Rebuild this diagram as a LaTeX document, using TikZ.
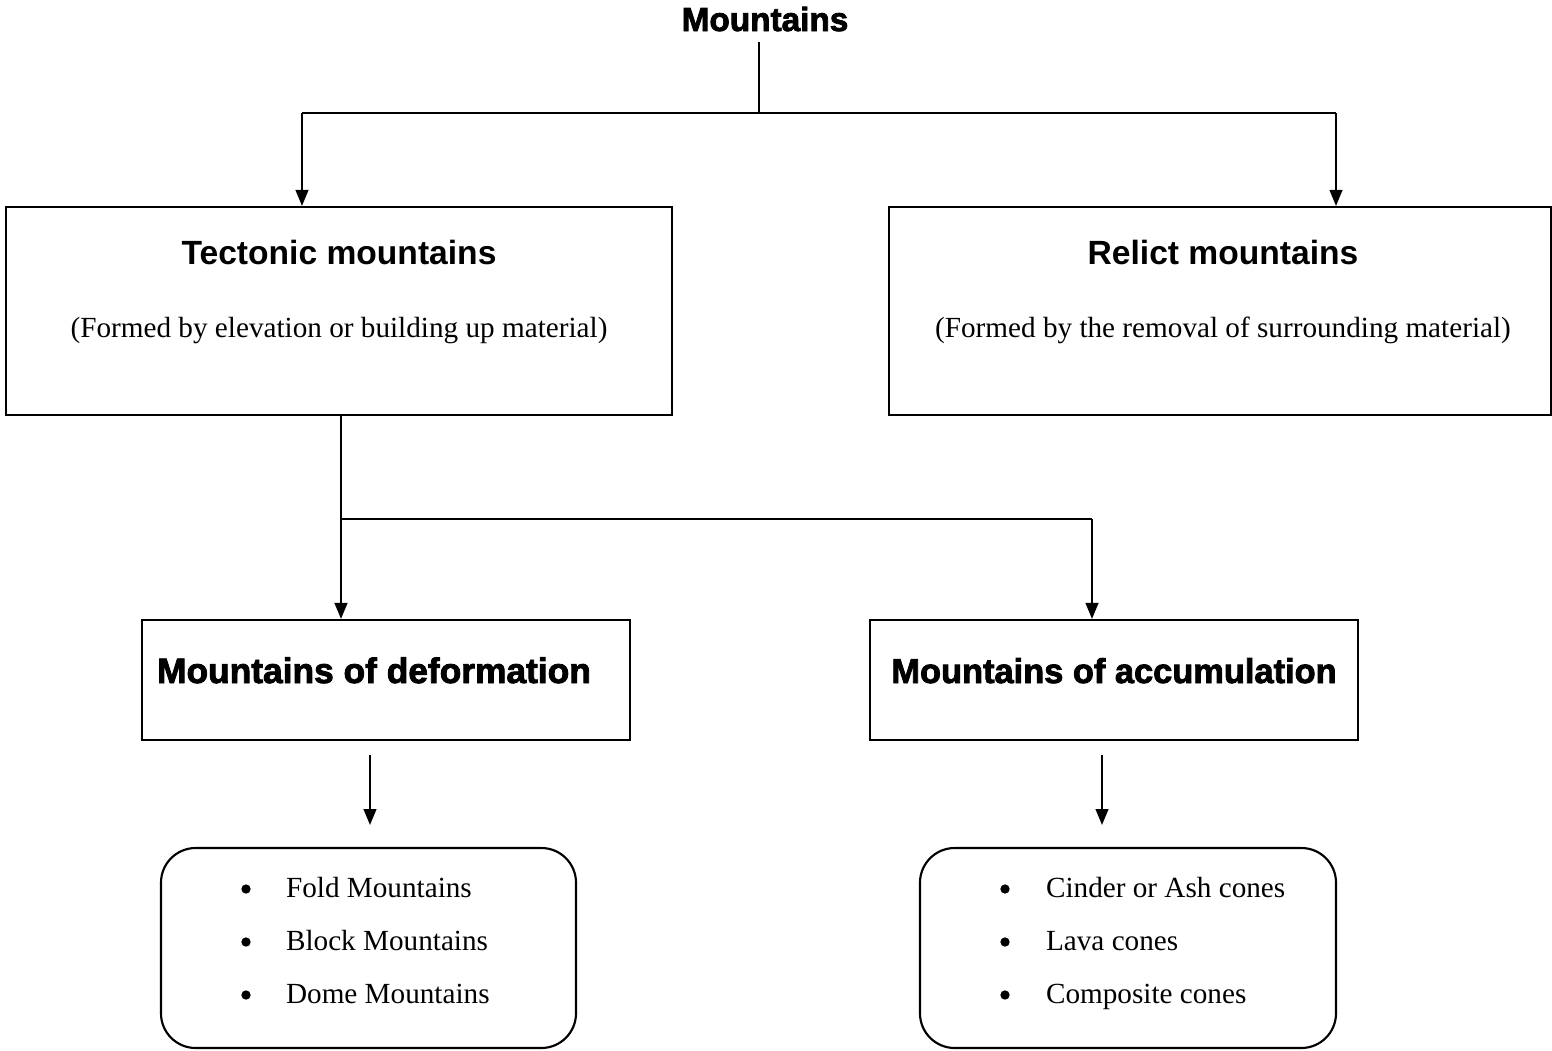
\documentclass[tikz,border=0pt]{standalone}
\usepackage{fontspec}
\setmainfont{Liberation Serif}
\newfontfamily\headfont{Liberation Sans}
\newfontfamily\blackfont{Liberation Sans}[BoldFeatures={FakeBold=2.4}]
\usetikzlibrary{arrows.meta}
\begin{document}
\begin{tikzpicture}[x=0.75pt,y=-0.75pt,
  line width=1.6pt,
  arr/.style={-{Triangle[length=12pt,width=9.5pt]}},
  box/.style={draw,rectangle,inner sep=0pt},
  listbox/.style={draw,rectangle,rounded corners=26pt,inner sep=0pt},
  title/.style={font=\blackfont\bfseries\fontsize{25}{30}\selectfont,anchor=base,inner sep=0pt},
  head/.style={font=\headfont\bfseries\fontsize{25.2}{30}\selectfont,anchor=base,inner sep=0pt},
  sub/.style={font=\fontsize{21.9}{26}\selectfont,anchor=base,inner sep=0pt},
  item/.style={font=\fontsize{21.9}{26}\selectfont,anchor=base west,inner sep=0pt},
  dot/.style={circle,fill,draw=none,minimum size=7pt,inner sep=0pt}]
\useasboundingbox (0,0) rectangle (1552,1050);

% boxes
\node[box,minimum width=499.5pt,minimum height=156pt] (tect) at (339,311) {};
\node[box,minimum width=496.5pt,minimum height=156pt] (rel) at (1220,311) {};
\node[box,minimum width=366pt,minimum height=90pt] (def) at (386,680) {};
\node[box,minimum width=366pt,minimum height=90pt] (acc) at (1114,680) {};
\node[listbox,minimum width=311.25pt,minimum height=150pt] (lst1) at (368.5,948) {};
\node[listbox,minimum width=312pt,minimum height=150pt] (lst2) at (1128,948) {};

% texts
\node[title] (root) at (765,31) {Mountains};
\node[head] (tecth) at (339,264) {Tectonic mountains};
\node[sub] (tects) at (339,337) {(Formed by elevation or building up material)};
\node[head] (relh) at (1223,264) {Relict mountains};
\node[sub] (rels) at (1223,337) {(Formed by the removal of surrounding material)};
\node[title,font=\blackfont\bfseries\fontsize{26.5}{30}\selectfont] (defh) at (374,683) {Mountains of deformation};
\node[title,font=\blackfont\bfseries\fontsize{25.8}{30}\selectfont] (acch) at (1114,683) {Mountains of accumulation};

% lists
\node[dot] (b11) at (246,889) {};
\node[dot] (b12) at (246,942) {};
\node[dot] (b13) at (246,995) {};
\node[item] (i11) at (285,897) {Fold Mountains};
\node[item] (i12) at (285,950) {Block Mountains};
\node[item] (i13) at (285,1003) {Dome Mountains};
\node[dot] (b21) at (1005,889) {};
\node[dot] (b22) at (1005,942) {};
\node[dot] (b23) at (1005,995) {};
\node[item] (i21) at (1045,897) {Cinder or Ash cones};
\node[item] (i22) at (1045,950) {Lava cones};
\node[item] (i23) at (1045,1003) {Composite cones};

% connector points
\coordinate (r0) at (759,42);
\coordinate (r1) at (759,113);
\coordinate (cl) at (302,113);
\coordinate (cr) at (1336,113);
\coordinate (j2) at (341,519);
\coordinate (j3) at (1092,519);
\coordinate (d0) at (370,755);
\coordinate (d1) at (370,825);
\coordinate (e0) at (1102,755);
\coordinate (e1) at (1102,825);

% connectors
\draw (r0) -- (r1);
\draw (cl) -- (cr);
\draw[arr] (cl) -- (cl |- tect.north);
\draw[arr] (cr) -- (cr |- rel.north);
\draw[arr] (j2 |- tect.south) -- (j2 |- def.north);
\draw (j2) -- (j3);
\draw[arr] (j3) -- (j3 |- acc.north);
\draw[arr] (d0) -- (d1);
\draw[arr] (e0) -- (e1);
\end{tikzpicture}
\end{document}
